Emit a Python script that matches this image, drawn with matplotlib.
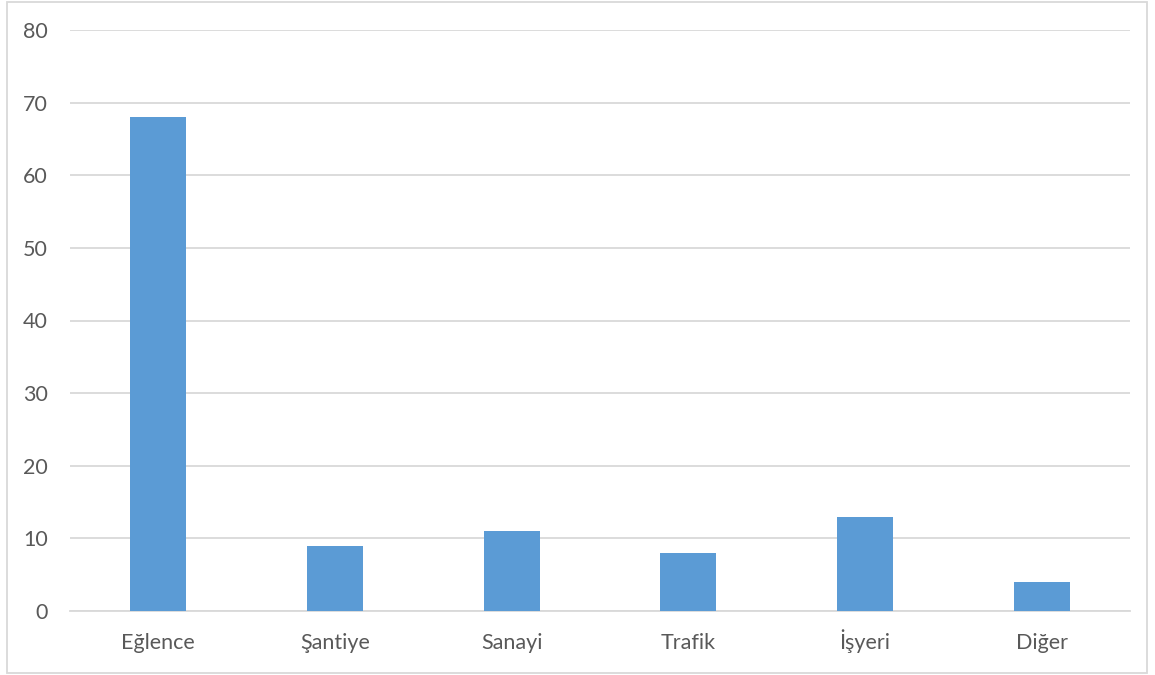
import numpy as np
import matplotlib.pyplot as plt
from matplotlib.patches import Rectangle

categories = ['Eğlence', 'Şantiye', 'Sanayi', 'Trafik', 'İşyeri', 'Diğer']
values = [68, 9, 11, 8, 13, 4]
yticks = [0, 10, 20, 30, 40, 50, 60, 70, 80]

plt.rcParams['font.family'] = ['Lato', 'DejaVu Sans']
text_color = '#595959'
grid_color = '#d9d9d9'

fig = plt.figure(figsize=(11.55, 6.75), dpi=100)
ax = fig.add_axes([70 / 1155, 1 - 611 / 675, 1060 / 1155, 581 / 675])

x = np.arange(len(categories))
ax.bar(x, values, width=0.316, color='#5b9bd5', zorder=3)

ax.set_xlim(-0.5, len(categories) - 0.5)
ax.set_ylim(0, 80)
ax.set_yticks(yticks)
ax.set_xticks(x)
ax.set_xticklabels(categories)
ax.grid(axis='y', color=grid_color, linewidth=1.3, zorder=0)
ax.tick_params(axis='both', length=0, labelsize=15.5, colors=text_color)
ax.tick_params(axis='x', pad=27.4)
ax.tick_params(axis='y', pad=16)
# keep all category names on one baseline, even the ones with a dotted capital
for lbl in ax.get_xticklabels():
    lbl.set_verticalalignment('baseline')
for side in ['top', 'right', 'left']:
    ax.spines[side].set_visible(False)
ax.spines['bottom'].set_color(grid_color)
ax.spines['bottom'].set_linewidth(1.3)

# light frame around the whole chart area
fig.patches.append(Rectangle((7 / 1155, 1 - 673 / 675), 1140 / 1155, 671 / 675,
                             transform=fig.transFigure, fill=False,
                             edgecolor='#d9d9d9', linewidth=1.3))

fig.savefig('out.png', dpi=100)
